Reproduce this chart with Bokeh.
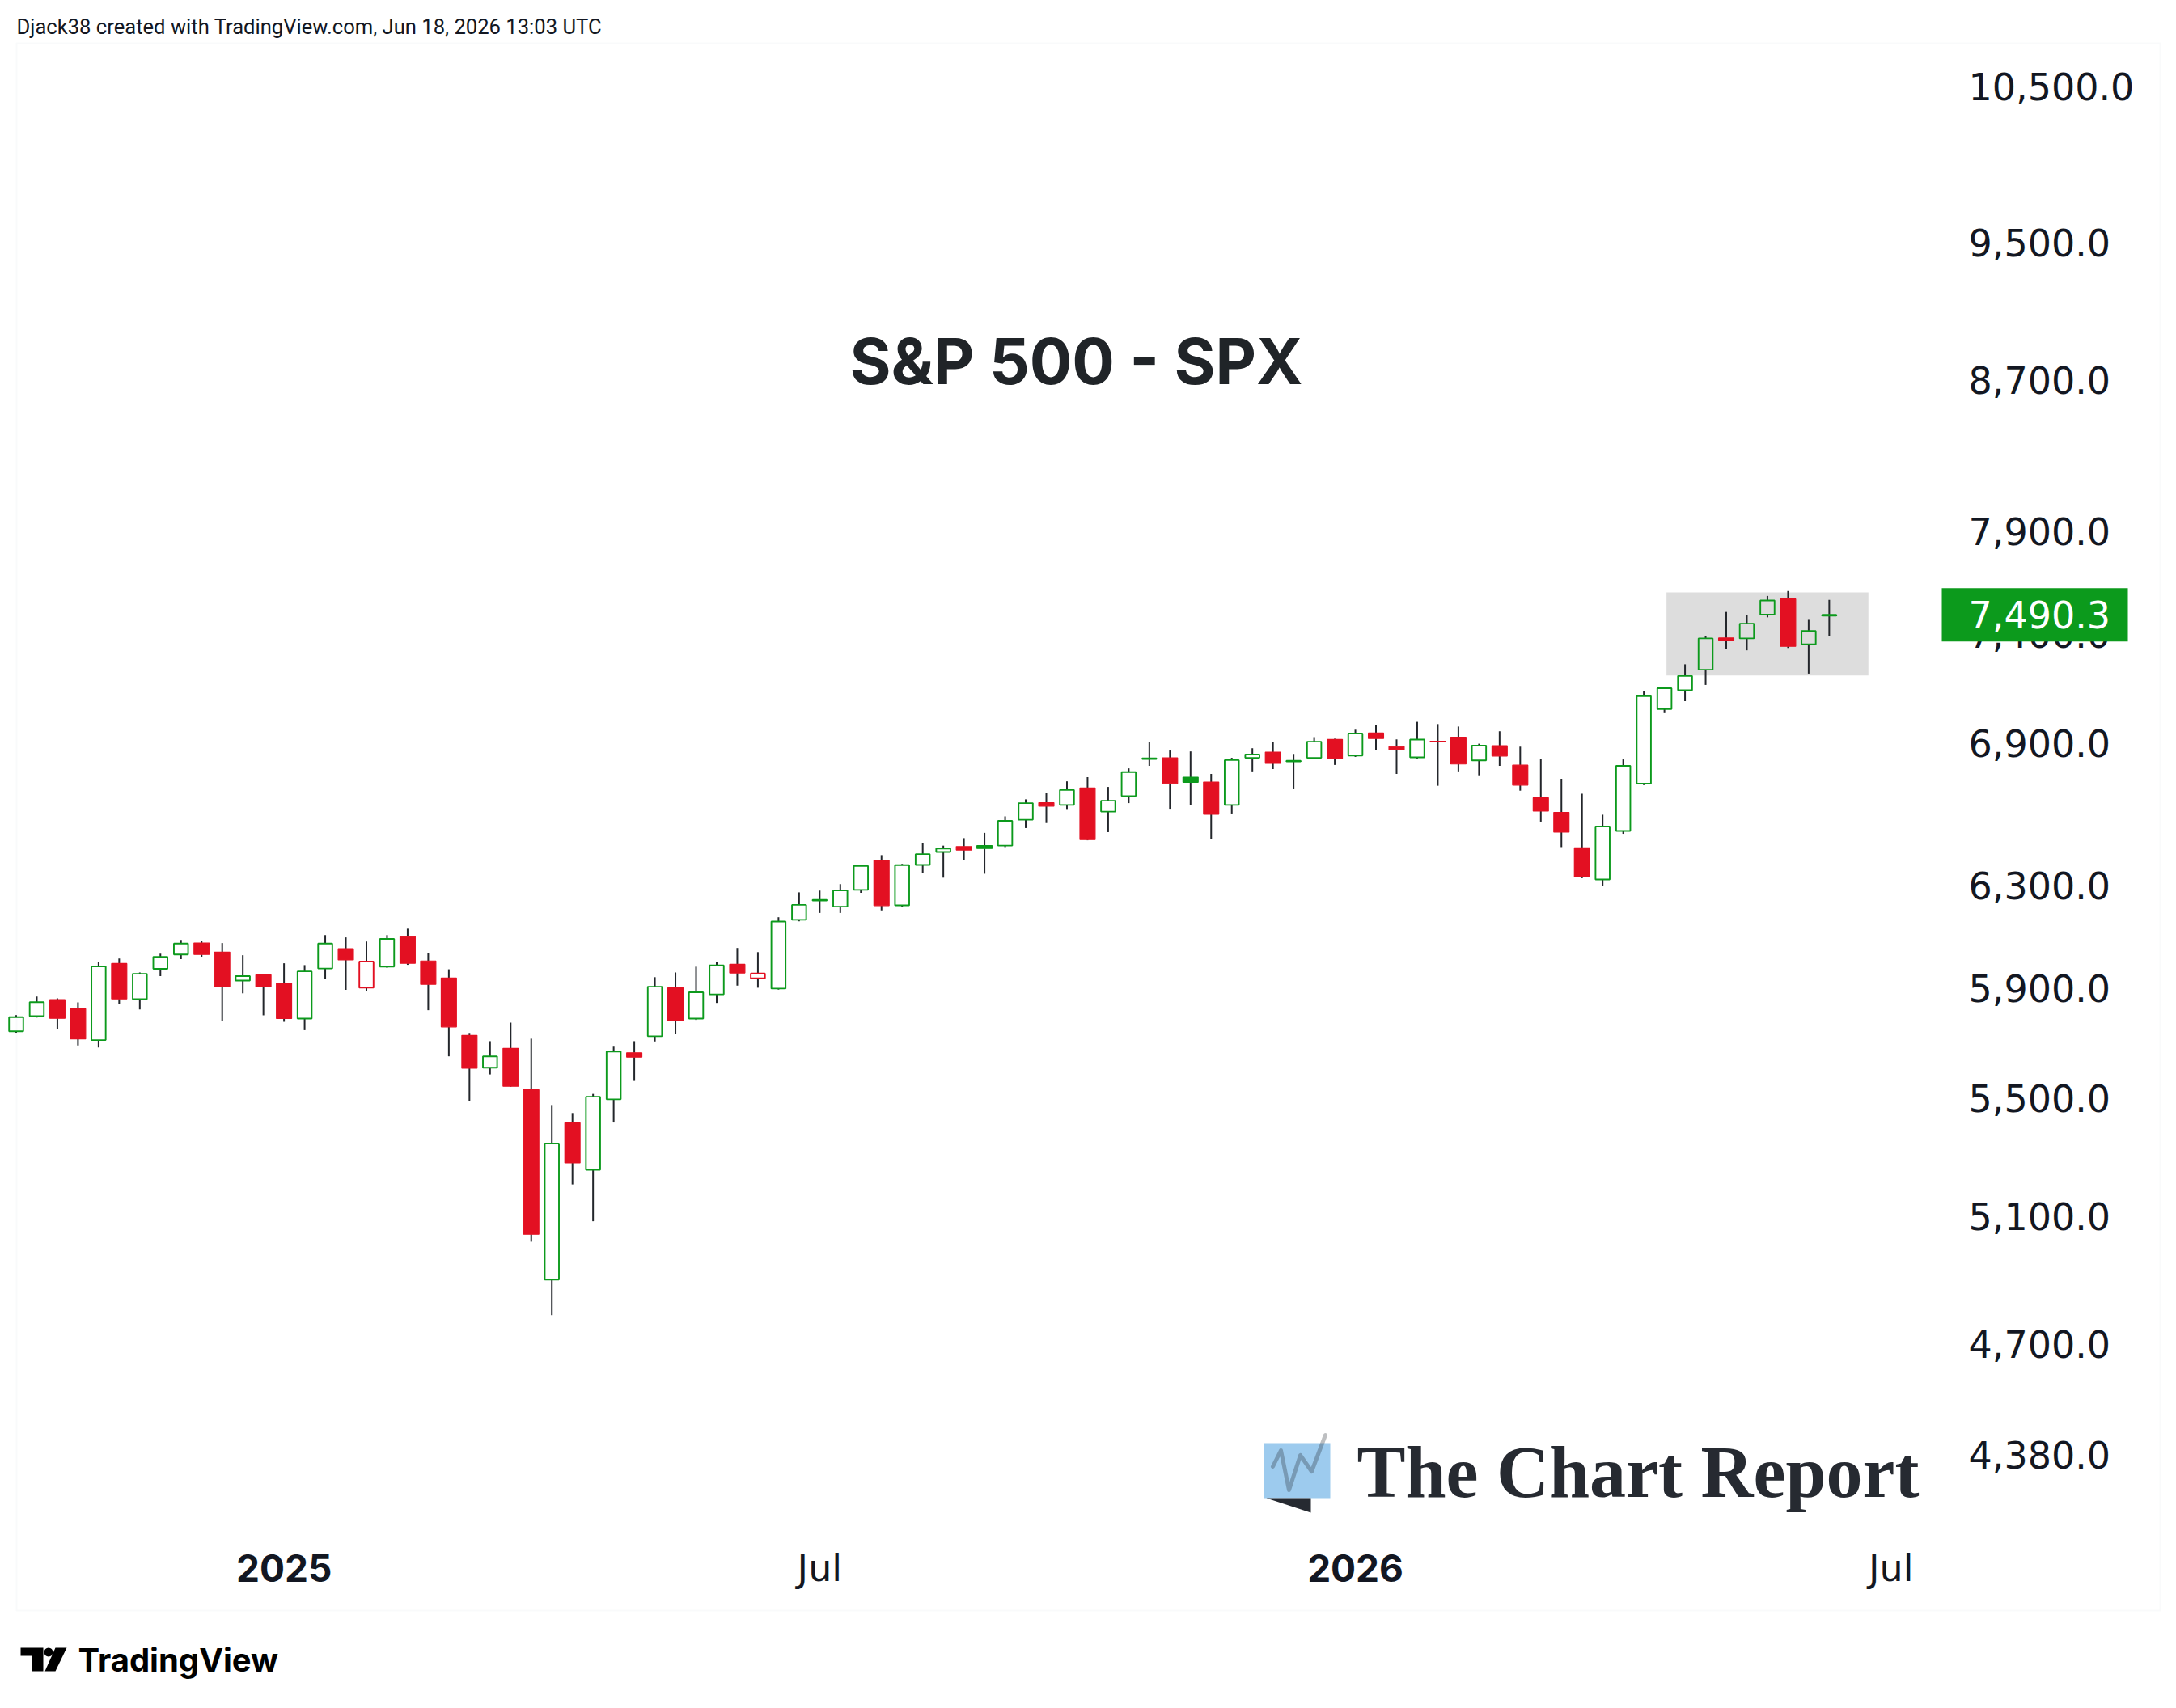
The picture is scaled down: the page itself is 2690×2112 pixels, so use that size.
import math
import pandas as pd
from bokeh.plotting import figure
from bokeh.models import (Range1d, FixedTicker, NumeralTickFormatter, BoxAnnotation,
                          PolyAnnotation, Label, ColumnDataSource)
from bokeh.embed import file_html
from bokeh.resources import INLINE

# ---------------- data (weekly S&P 500 candles) ----------------
first_week = "2024-10-07"
opens = [5740, 5796, 5857, 5823, 5708, 5994, 5859, 5974, 6029, 6073,
         6038, 5929, 5951, 5920, 5787, 5975, 6051, 5902, 5982, 6098,
         6004, 5939, 5725, 5608, 5678, 5530, 4898, 5414, 5254, 5496,
         5662, 5722, 5902, 5787, 5877, 5991, 5938, 5899, 6164, 6240,
         6216, 6283, 6403, 6221, 6384, 6437, 6459, 6463, 6463, 6571,
         6643, 6633, 6706, 6605, 6671, 6831, 6836, 6752, 6731, 6633,
         6836, 6861, 6820, 6836, 6917, 6846, 6945, 6885, 6838, 6909,
         6927, 6825, 6889, 6804, 6664, 6602, 6454, 6325, 6524, 6724,
         7052, 7138, 7232, 7380, 7378, 7491, 7566, 7350, 7486]
highs = [5800, 5869, 5862, 5847, 6001, 6013, 5960, 6032, 6085, 6082,
         6073, 6026, 5954, 5995, 5988, 6104, 6095, 6079, 6104, 6129,
         6035, 5972, 5734, 5704, 5772, 5713, 5476, 5448, 5515, 5684,
         5704, 5942, 5960, 5982, 6001, 6054, 6038, 6174, 6273, 6280,
         6306, 6385, 6424, 6388, 6474, 6463, 6494, 6516, 6585, 6657,
         6685, 6734, 6752, 6710, 6790, 6906, 6868, 6864, 6766, 6836,
         6878, 6906, 6853, 6927, 6920, 6960, 6981, 6917, 6995, 6985,
         6974, 6898, 6953, 6885, 6832, 6745, 6681, 6592, 6829, 7135,
         7153, 7257, 7389, 7504, 7489, 7581, 7605, 7466, 7562]
lows = [5735, 5791, 5750, 5688, 5681, 5842, 5821, 5946, 6011, 6020,
        5778, 5881, 5799, 5775, 5744, 5934, 5894, 5888, 5978, 5989,
        5818, 5649, 5491, 5584, 5540, 5018, 4788, 5205, 5084, 5415,
        5561, 5703, 5729, 5782, 5845, 5910, 5902, 5895, 6158, 6191,
        6191, 6271, 6201, 6214, 6352, 6332, 6402, 6348, 6457, 6536,
        6557, 6616, 6485, 6519, 6641, 6801, 6617, 6634, 6491, 6597,
        6777, 6787, 6700, 6832, 6805, 6840, 6869, 6766, 6833, 6715,
        6777, 6760, 6801, 6694, 6563, 6457, 6330, 6298, 6512, 6718,
        7034, 7088, 7162, 7328, 7322, 7478, 7333, 7214, 7391]
closes = [5792, 5848, 5788, 5712, 5983, 5860, 5955, 6020, 6071, 6029,
          5906, 5946, 5905, 5787, 5964, 6071, 6008, 6002, 6089, 5995,
          5915, 5756, 5606, 5649, 5542, 5042, 5343, 5277, 5505, 5666,
          5646, 5906, 5779, 5885, 5987, 5958, 5956, 6157, 6223, 6243,
          6281, 6380, 6220, 6383, 6428, 6451, 6445, 6451, 6566, 6641,
          6628, 6697, 6488, 6651, 6774, 6834, 6725, 6730, 6594, 6826,
          6851, 6812, 6823, 6907, 6833, 6943, 6921, 6872, 6916, 6906,
          6809, 6890, 6844, 6718, 6607, 6519, 6336, 6543, 6801, 7111,
          7147, 7203, 7378, 7370, 7448, 7559, 7341, 7413, 7490.3]
prev_close_before_first = 5700.0
last_price_text = "7,490.3"

price_ticks = [4380, 4700, 5100, 5500, 5900, 6300, 6900, 7400, 7900, 8700, 9500, 10500]
time_tick_dates = ["2025-01-06", "2025-07-07", "2026-01-05", "2026-07-06"]
time_tick_labels = ["2025", "Jul", "2026", "Jul"]
time_tick_bold = [True, False, True, False]

highlight_weeks = [80.1, 89.9]      # drawn rectangle, in bar units
highlight_prices = [7205, 7598]

title_text = "S&P 500 - SPX"
credit_text = "Djack38 created with TradingView.com, Jun 18, 2026 13:03 UTC"
brand_text = "The Chart Report"
tv_text = "TradingView"

# ---------------- styling ----------------
GREEN = "#0c9a1c"
RED = "#e31022"
WICK = "#23262b"
TEXT = "#131722"
FONT = "Inter"
AXFONT = "DejaVu Sans"

# ---------------- canvas geometry (pixels) ----------------
CANVAS_W, CANVAS_H = 2680, 2100
BAR0_X, BAR_W = 19.5, 25.47
REF_PRICE, REF_Y, PX_PER_LN = 10500.0, 106.0, 1935.3


def dx(px):
    return (px - BAR0_X) / BAR_W


def dy(py):
    return REF_PRICE * math.exp(-(py - REF_Y) / PX_PER_LN)


# ---------------- derived candle columns ----------------
n = len(closes)
xs = list(range(n))
prev = [prev_close_before_first] + closes[:-1]
colors = [GREEN if c >= pc else RED for c, pc in zip(closes, prev)]
btop = [max(o, c) for o, c in zip(opens, closes)]
bbot = [min(o, c) for o, c in zip(opens, closes)]
hollow = [c > o for o, c in zip(opens, closes)]


def pick(seq, flag):
    return [v for v, h in zip(seq, hollow) if h == flag]


src_all = ColumnDataSource(dict(x=xs, high=highs, low=lows, top=btop, bottom=bbot))
src_h = ColumnDataSource(dict(x=pick(xs, True), top=pick(btop, True),
                              bottom=pick(bbot, True), color=pick(colors, True)))
src_f = ColumnDataSource(dict(x=pick(xs, False), top=pick(btop, False),
                              bottom=pick(bbot, False), color=pick(colors, False)))

start = pd.Timestamp(first_week)
tick_pos = [int((pd.Timestamp(d) - start).days // 7) for d in time_tick_dates]

# ---------------- figure ----------------
p = figure(frame_width=CANVAS_W, frame_height=CANVAS_H,
           y_axis_type="log", y_axis_location="right",
           x_range=Range1d(dx(0), dx(CANVAS_W)),
           y_range=Range1d(dy(CANVAS_H), dy(0)),
           output_backend="svg", toolbar_location=None, title=None,
           min_border_left=0, min_border_top=0, min_border_right=0, min_border_bottom=0,
           background_fill_color="white", border_fill_color="white")
p.outline_line_color = None
p.grid.visible = False

# outer chart border
p.add_layout(BoxAnnotation(left=dx(20), right=dx(2670), top=dy(53), bottom=dy(1991),
                           fill_color=None, line_color="#eceef2", line_width=2, level="underlay"))

# highlight rectangle
p.add_layout(BoxAnnotation(left=highlight_weeks[0], right=highlight_weeks[1],
                           bottom=highlight_prices[0], top=highlight_prices[1],
                           fill_color="#dddddd", fill_alpha=1.0, line_color=None,
                           level="underlay"))

# candles
p.segment(x0="x", y0="top", x1="x", y1="high", line_color=WICK, line_width=2, source=src_all)
p.segment(x0="x", y0="bottom", x1="x", y1="low", line_color=WICK, line_width=2, source=src_all)
p.vbar(x="x", top="top", bottom="bottom", width=0.69, fill_color=None,
       line_color="color", line_width=1.9, source=src_h)
p.vbar(x="x", top="top", bottom="bottom", width=0.74, fill_color="color",
       line_color="color", line_width=1.2, source=src_f)

# price axis (right); labels pulled into the chart area
yax = p.yaxis[0]
yax.ticker = FixedTicker(ticks=price_ticks, minor_ticks=[])
yax.formatter = NumeralTickFormatter(format="0,0.0")
yax.axis_line_color = None
yax.major_tick_line_color = None
yax.minor_tick_line_color = None
yax.major_tick_out = 0
yax.minor_tick_out = 0
yax.major_label_standoff = 2433 - CANVAS_W
yax.major_label_text_font = AXFONT
yax.major_label_text_font_size = "46px"
yax.major_label_text_color = TEXT

# time axis (below): regular-weight labels
xax = p.xaxis[0]
reg = [(t, l) for t, l, b in zip(tick_pos, time_tick_labels, time_tick_bold) if not b]
xax.ticker = FixedTicker(ticks=[t for t, _ in reg], minor_ticks=[])
xax.major_label_overrides = {t: l for t, l in reg}
xax.axis_line_color = None
xax.major_tick_line_color = None
xax.minor_tick_line_color = None
xax.major_tick_out = 0
xax.minor_tick_out = 0
xax.major_label_standoff = 1938 - 27 - CANVAS_H
xax.major_label_text_font = AXFONT
xax.major_label_text_font_size = "46px"
xax.major_label_text_color = TEXT

# bold year labels on the time scale
for t, l, b in zip(tick_pos, time_tick_labels, time_tick_bold):
    if b:
        p.add_layout(Label(x=t, y=dy(1938), text=l, text_align="center",
                           text_baseline="middle", text_font=FONT, text_font_size="46px",
                           text_font_style="bold", text_color=TEXT))

# last price tag on the axis
last = closes[-1]
half = 33 / PX_PER_LN
p.add_layout(BoxAnnotation(left=dx(2400), right=dx(2630),
                           bottom=last * math.exp(-half), top=last * math.exp(half),
                           fill_color=GREEN, fill_alpha=1.0, line_color=None, level="overlay"))
p.add_layout(Label(x=dx(2433), y=last, text=last_price_text, text_align="left",
                   text_baseline="middle", text_font=AXFONT, text_font_size="46px",
                   text_color="white", level="overlay"))

# texts
p.add_layout(Label(x=dx(1330), y=dy(446), text=title_text, text_align="center",
                   text_baseline="middle", text_font=FONT, text_font_size="78px",
                   text_font_style="bold", text_color="#202428"))
p.add_layout(Label(x=dx(20), y=dy(32.5), text=credit_text, text_align="left",
                   text_baseline="middle", text_font="Roboto", text_font_size="25.6px",
                   text_color=TEXT))
p.add_layout(Label(x=dx(1677), y=dy(1820), text=brand_text, text_align="left",
                   text_baseline="middle", text_font="Liberation Serif",
                   text_font_size="90px", text_font_style="bold", text_color="#262a31"))
p.add_layout(Label(x=dx(96), y=dy(2052), text=tv_text, text_align="left",
                   text_baseline="middle", text_font=FONT, text_font_size="40px",
                   text_font_style="bold", text_color="#000000"))

# brand icon
p.add_layout(BoxAnnotation(left=dx(1562), right=dx(1644), top=dy(1784), bottom=dy(1852),
                           fill_color="#9dcbee", fill_alpha=1.0, line_color=None, level="annotation"))
tri_px = [(1565, 1852), (1620, 1852), (1620, 1870)]
p.add_layout(PolyAnnotation(xs=[dx(a) for a, _ in tri_px], ys=[dy(b) for _, b in tri_px],
                            fill_color="#262a31", fill_alpha=1.0, line_color=None, level="annotation"))
zig_px = [(1573, 1813), (1583, 1793), (1593, 1842), (1607, 1799), (1621, 1819), (1638, 1774)]
path = zig_px + zig_px[-2:0:-1]
p.add_layout(PolyAnnotation(xs=[dx(a) for a, _ in path], ys=[dy(b) for _, b in path],
                            fill_color=None, line_color="#262a31", line_width=5,
                            line_join="round", level="annotation"))

# TradingView mark
tv_t = [(25, 2037), (53, 2037), (53, 2066), (39, 2066), (39, 2047), (25, 2047)]
tv_s = [(68, 2037), (82, 2037), (68, 2066), (55, 2066)]
for shape in (tv_t, tv_s):
    p.add_layout(PolyAnnotation(xs=[dx(a) for a, _ in shape], ys=[dy(b) for _, b in shape],
                                fill_color="#000000", fill_alpha=1.0, line_color=None,
                                level="annotation"))
dot = [(59.5 + 5.5 * math.cos(a * math.pi / 8), 2042.5 + 5.5 * math.sin(a * math.pi / 8)) for a in range(16)]
p.add_layout(PolyAnnotation(xs=[dx(a) for a, _ in dot], ys=[dy(b) for _, b in dot],
                            fill_color="#000000", fill_alpha=1.0, line_color=None, level="annotation"))

open("out.html", "w").write(file_html(p, INLINE))
